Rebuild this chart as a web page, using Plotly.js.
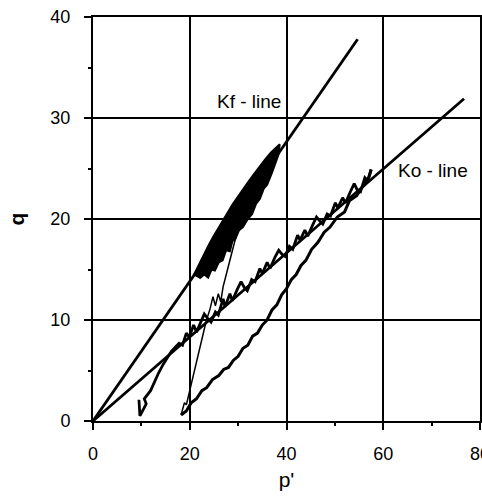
<!DOCTYPE html>
<html>
<head>
<meta charset="utf-8">
<script src="https://cdn.plot.ly/plotly-3.0.1.min.js"></script>
<style>html,body{margin:0;padding:0;background:#fff;}#chart{width:482px;height:497px;}</style>
</head>
<body>
<div id="chart"></div>
<script>
// Reference lines
const kfLineP = [0, 54.7];
const kfLineQ = [0, 37.8];
const koLineP = [0, 76.7];
const koLineQ = [0, 31.9];

// K0 loading path (from start near p'=10 up along the Ko line)
const loadP = [9.5, 9.7, 11.0, 10.6, 11.9, 12.8, 13.6, 14.5, 15.3, 16.2, 17.0,
  17.8, 18.5, 19.3, 19.9, 20.8, 21.4, 22.3, 23.0, 23.8, 24.4, 25.3, 25.9, 26.9, 27.3, 28.3, 28.8,
  29.8, 30.6, 31.3, 31.9, 32.8, 33.5, 34.5, 35.0, 36.0, 36.6, 37.6, 38.4, 39.1, 39.7, 40.6, 41.3,
  42.3, 42.8, 43.8, 44.4, 45.4, 46.2, 46.9, 47.5, 48.4, 49.1, 50.1, 50.6, 51.6, 52.2, 53.2, 54.0,
  54.6, 55.3, 56.2, 56.8, 57.5];
const loadQ = [2.1, 0.5, 1.7, 2.2, 3.0, 4.0, 4.8, 5.6, 6.2, 6.9, 7.3,
  7.7, 7.5, 8.7, 8.3, 9.5, 8.8, 9.8, 10.6, 10.1, 9.8, 10.8, 10.5, 12.1, 11.3, 12.6, 11.9,
  13.0, 13.8, 13.2, 12.9, 14.0, 13.8, 15.1, 14.6, 15.7, 15.1, 16.2, 16.9, 16.5, 16.3, 17.3, 17.0,
  18.4, 17.9, 18.9, 18.3, 19.4, 20.2, 19.8, 19.5, 20.5, 20.3, 21.6, 21.1, 22.1, 21.6, 22.7, 23.5,
  22.9, 22.7, 24.1, 23.8, 24.9];

// Unloading path (lower curve back to p'=18)
const unloadP = [57.5, 57.0, 56.0, 54.5, 53.0, 52.0, 50.5, 49.0, 47.8, 46.5, 45.2, 44.0, 43.0, 42.0,
  41.0, 40.0, 39.0, 38.0, 37.0, 36.0, 35.0, 34.0, 33.0, 32.0, 31.0, 30.0, 29.0, 28.0, 27.0, 26.0,
  24.7, 23.5, 22.5, 21.4, 20.3, 19.3, 18.2];
const unloadQ = [24.9, 24.1, 23.4, 22.3, 21.8, 20.7, 20.2, 19.2, 18.7, 17.7, 17.0, 15.9, 15.4, 14.5,
  14.0, 13.1, 12.5, 11.5, 11.0, 10.0, 9.5, 8.7, 8.4, 7.5, 7.2, 6.4, 6.0, 5.3, 5.1, 4.5,
  4.1, 3.3, 3.0, 2.2, 1.8, 1.0, 0.6];

// Undrained shear path up to the Kf line
const shearP = [18.2, 18.9, 19.3, 19.8, 20.3, 21.0, 21.8, 22.6, 23.4, 24.2, 24.8, 25.3, 25.9, 26.4,
  26.9, 27.6, 28.4, 29.2, 30.0, 30.8];
const shearQ = [0.6, 1.8, 1.6, 2.6, 3.8, 5.3, 6.9, 8.4, 9.9, 11.1, 12.3, 11.4, 12.6, 11.8,
  13.3, 14.6, 16.2, 17.6, 19.0, 20.2];

// Cyclic loading band along the Kf line (outline)
const cycP = [20.8, 21.8, 22.8, 23.8, 24.8, 25.8, 26.8, 27.8, 28.8, 29.8, 30.9, 32.0, 33.2, 34.4, 35.6, 36.8, 37.8, 38.6,
  38.3, 37.6, 37.0, 36.0, 35.3, 34.5, 33.7, 32.9, 32.0, 31.0, 30.2, 29.4, 28.8, 28.3, 27.5, 26.8, 26.0, 25.2, 24.5, 23.8, 23.0, 22.0];
const cycQ = [14.4, 15.4, 16.4, 17.3, 18.2, 19.0, 19.9, 20.7, 21.4, 22.1, 22.9, 23.6, 24.4, 25.2, 25.9, 26.6, 27.1, 27.4,
  26.3, 25.3, 24.6, 23.4, 23.0, 22.0, 21.5, 20.5, 20.0, 19.2, 18.9, 18.0, 17.8, 16.8, 16.9, 15.9, 15.7, 14.9, 15.0, 14.2, 14.5, 14.1];

// Axis ticks & labels
const xTicks = [0, 20, 40, 60, 80];
const yTicks = [0, 10, 20, 30, 40];
const xTitle = "p'";
const yTitle = "q";
const kfLabel = "Kf - line";
const koLabel = "Ko - line";

const FONT = "Arial, 'Liberation Sans', sans-serif";

const traces = [
  {x: cycP, y: cycQ, mode: 'lines', fill: 'toself', fillcolor: '#000', line: {color: '#000', width: 2}, hoverinfo: 'skip'},
  {x: loadP, y: loadQ, mode: 'lines', line: {color: '#000', width: 2.8}, hoverinfo: 'skip'},
  {x: unloadP, y: unloadQ, mode: 'lines', line: {color: '#000', width: 3}, hoverinfo: 'skip'},
  {x: shearP, y: shearQ, mode: 'lines', line: {color: '#000', width: 1.5}, hoverinfo: 'skip'},
  {x: kfLineP, y: kfLineQ, mode: 'lines', line: {color: '#000', width: 2.8}, hoverinfo: 'skip'},
  {x: koLineP, y: koLineQ, mode: 'lines', line: {color: '#000', width: 2.8}, hoverinfo: 'skip'}
];

const axisCommon = {
  showline: true, mirror: true, linecolor: '#000', linewidth: 2,
  showgrid: true, gridcolor: '#000', gridwidth: 2,
  zeroline: false,
  ticks: 'outside', ticklen: 7, tickwidth: 2, tickcolor: '#000',
  tickfont: {family: FONT, size: 18, color: '#000'},
  ticklabeloverflow: 'allow',
  minor: {ticks: 'outside', ticklen: 3, tickwidth: 2, tickcolor: '#000', showgrid: false},
  fixedrange: true
};

const layout = {
  width: 482, height: 497,
  margin: {l: 93, r: 2, t: 17, b: 76},
  paper_bgcolor: '#fff', plot_bgcolor: '#fff',
  showlegend: false,
  font: {family: FONT, color: '#000'},
  xaxis: Object.assign({}, axisCommon, {
    range: [0, 80], tickvals: xTicks, ticktext: xTicks.map(String),
    minor: Object.assign({}, axisCommon.minor, {tickvals: [10, 30, 50, 70]}),
    ticklabelstandoff: 8,
    title: {text: xTitle, font: {family: FONT, size: 21, color: '#000'}, standoff: 10}
  }),
  yaxis: Object.assign({}, axisCommon, {
    range: [0, 40], tickvals: yTicks, ticktext: yTicks.map(String),
    minor: Object.assign({}, axisCommon.minor, {tickvals: [5, 15, 25, 35]}),
    ticklabelstandoff: 10,
    title: {text: '<b>' + yTitle + '</b>', font: {family: FONT, size: 21, color: '#000'}, standoff: 20}
  }),
  annotations: [
    {x: 32.3, y: 31.6, xref: 'x', yref: 'y', text: kfLabel, showarrow: false,
     font: {family: FONT, size: 19, color: '#000'}},
    {x: 70.3, y: 24.8, xref: 'x', yref: 'y', text: koLabel, showarrow: false,
     font: {family: FONT, size: 19, color: '#000'}}
  ]
};

Plotly.newPlot('chart', traces, layout, {displayModeBar: false, staticPlot: true});
</script>
</body>
</html>
